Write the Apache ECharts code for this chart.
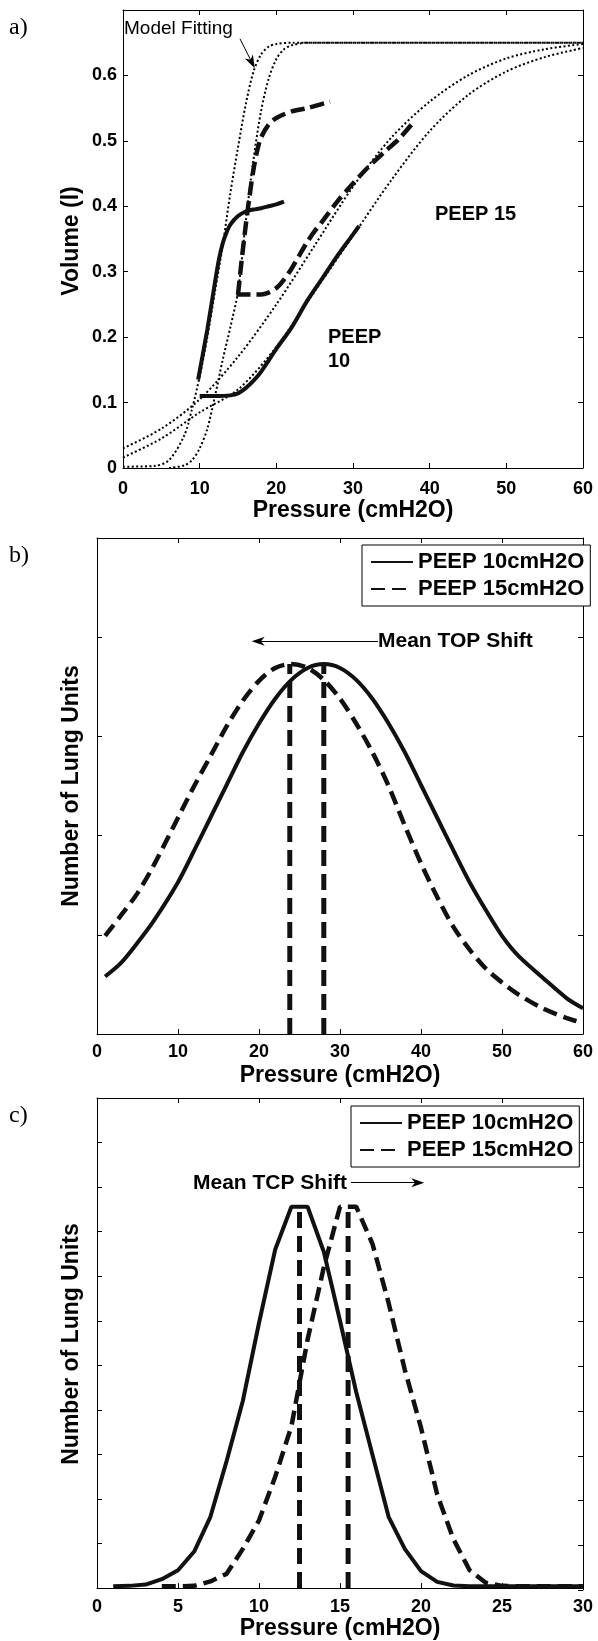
<!DOCTYPE html>
<html>
<head>
<meta charset="utf-8">
<script src="https://cdn.jsdelivr.net/npm/echarts@6/dist/echarts.min.js"></script>
<style>
  html, body { margin: 0; padding: 0; background: #fff; }
  #main { width: 598px; height: 1641px; }
</style>
</head>
<body>
<div id="main"></div>
<script>
// ---- panel a: P-V curves, volume (l) against pressure (cmH2O)
const fitS1X = [0, 4, 6, 8, 9, 10, 11, 12, 13, 14, 15, 16, 17, 18, 19, 20, 22, 30, 40, 50, 60];
const fitS1Y = [0.002, 0.003, 0.012, 0.05, 0.09, 0.14, 0.2, 0.27, 0.34, 0.42, 0.49, 0.555, 0.605, 0.632, 0.644, 0.648, 0.65, 0.65, 0.65, 0.65, 0.65];
const fitS2X = [6, 8, 9, 10, 11, 12, 13, 14, 15, 16, 17, 18, 19, 20, 21, 22, 24, 30, 40, 50, 60];
const fitS2Y = [0, 0.004, 0.012, 0.03, 0.06, 0.11, 0.165, 0.215, 0.27, 0.375, 0.47, 0.545, 0.595, 0.625, 0.64, 0.646, 0.65, 0.65, 0.65, 0.65, 0.65];
const fitGX = [0, 5, 10, 15, 20, 25, 30, 35, 40, 45, 50, 55, 60];
const fitG1Y = [0.03, 0.06, 0.105, 0.17, 0.25, 0.34, 0.43, 0.505, 0.56, 0.6, 0.626, 0.64, 0.648];
const fitG2Y = [0.016, 0.045, 0.085, 0.12, 0.185, 0.27, 0.355, 0.44, 0.515, 0.57, 0.606, 0.628, 0.642];

const p10InX = [10, 12, 14, 15, 16, 17, 18, 20, 22, 24, 26, 28, 30, 30.8];
const p10InY = [0.11, 0.11, 0.111, 0.114, 0.122, 0.133, 0.147, 0.182, 0.215, 0.255, 0.29, 0.325, 0.357, 0.37];
const p10OutX = [9.8, 11, 12, 12.5, 13, 13.5, 14, 15, 16, 17, 18, 19, 20, 21];
const p10OutY = [0.135, 0.212, 0.284, 0.318, 0.343, 0.36, 0.372, 0.385, 0.392, 0.395, 0.397, 0.4, 0.403, 0.407];
const p15InX = [14.8, 16, 17, 18, 19, 20, 21, 22, 23, 24, 25, 26, 28, 30, 32, 34, 36, 38];
const p15InY = [0.265, 0.265, 0.265, 0.265, 0.268, 0.275, 0.288, 0.305, 0.325, 0.345, 0.362, 0.377, 0.408, 0.435, 0.46, 0.482, 0.503, 0.53];
const p15OutX = [15, 15.5, 16, 16.5, 17, 17.5, 18, 19, 20, 22, 24, 27];
const p15OutY = [0.265, 0.32, 0.37, 0.415, 0.455, 0.485, 0.505, 0.525, 0.535, 0.545, 0.55, 0.56];

// ---- panel b: opening pressure distribution
const topX = [1, 3, 5, 7, 10, 12, 14, 16, 18, 20, 22, 24, 26, 28, 30, 32, 34, 36, 38, 40, 42, 44, 46, 48, 50, 52, 55, 58, 60];
const top10 = [0.58, 0.72, 0.92, 1.14, 1.53, 1.85, 2.18, 2.51, 2.84, 3.13, 3.38, 3.57, 3.69, 3.73, 3.69, 3.57, 3.38, 3.13, 2.84, 2.51, 2.18, 1.85, 1.53, 1.25, 0.99, 0.79, 0.57, 0.36, 0.26];
const top15 = [0.99, 1.2, 1.42, 1.7, 2.18, 2.5, 2.8, 3.1, 3.36, 3.56, 3.69, 3.73, 3.69, 3.57, 3.38, 3.13, 2.84, 2.5, 2.1, 1.72, 1.38, 1.08, 0.85, 0.66, 0.52, 0.4, 0.26, 0.16, 0.11];
const topMean = [28, 23.8];
const topPeak = 3.73;

// ---- panel c: closing pressure distribution
const tcpX10 = [1, 2, 3, 4, 5, 6, 7, 8, 9, 10, 11, 12, 13, 14, 15, 16, 17, 18, 19, 20, 21, 22, 23, 30];
const tcp10 = [0.04, 0.05, 0.08, 0.2, 0.4, 0.82, 1.6, 2.85, 4.2, 5.95, 7.6, 8.56, 8.56, 7.55, 6.0, 4.4, 3.0, 1.6, 0.88, 0.38, 0.14, 0.06, 0.04, 0.04];
const tcpX15 = [4, 5, 6, 7, 8, 9, 10, 11, 12, 13, 14, 15, 16, 17, 18, 19, 20, 21, 22, 23, 24, 25, 26, 30];
const tcp15 = [0.04, 0.04, 0.05, 0.15, 0.32, 0.88, 1.52, 2.5, 3.63, 5.58, 7.2, 8.56, 8.56, 7.73, 6.4, 4.9, 3.6, 2.1, 1.1, 0.4, 0.12, 0.05, 0.04, 0.04];
const tcpMean = [12.5, 15.5];
const tcpPeak = 8.6;

const legendNames = ['PEEP 10cmH2O', 'PEEP 15cmH2O'];

const SANS = 'Liberation Sans, Arial, sans-serif';
const INK = '#111';
const zip = (xs, ys) => xs.map((x, i) => [x, ys[i]]);
const arrowHead = 'path://M0,0 L6,14 L0,10 L-6,14 Z';

const boxes = [
  { left: 123, top: 10, width: 460, height: 458 },
  { left: 97, top: 538, width: 486, height: 496 },
  { left: 97, top: 1098, width: 486, height: 492 }
];
// grids 0-2 hold the data and the bottom/left axes, grids 3-5 are the same boxes carrying the top/right ticks
const grids = boxes.concat(boxes.map(b => Object.assign({}, b)));

const tickStyle = { inside: true, length: 5, lineStyle: { color: '#000', width: 1 } };
const lineAx = { show: true, onZero: false, lineStyle: { color: '#000', width: 1 } };
const labelTxt = { color: '#000', fontSize: 18, fontWeight: 'bold', fontFamily: SANS };

function xAxis(g, max, interval, margin, gap) {
  return { gridIndex: g, type: 'value', min: 0, max: max, interval: interval, position: 'bottom',
    axisLine: lineAx, axisTick: tickStyle, splitLine: { show: false },
    axisLabel: Object.assign({ margin: margin }, labelTxt),
    name: 'Pressure (cmH2O)', nameLocation: 'middle', nameGap: gap,
    nameTextStyle: { color: '#000', fontSize: 23, fontWeight: 'bold', fontFamily: SANS } };
}
function topAxis(g, max, interval) {
  return { gridIndex: g, type: 'value', min: 0, max: max, interval: interval, position: 'top',
    axisLine: lineAx, axisTick: tickStyle, splitLine: { show: false }, axisLabel: { show: false } };
}
function yAxis(g, max, interval, showLabels) {
  return { gridIndex: g, type: 'value', min: 0, max: max, interval: interval, position: 'left',
    axisLine: lineAx, axisTick: tickStyle, splitLine: { show: false },
    axisLabel: Object.assign({ show: showLabels, margin: 6, showMaxLabel: false }, labelTxt) };
}
function rightAxis(g, max, interval) {
  return { gridIndex: g, type: 'value', min: 0, max: max, interval: interval, position: 'right',
    axisLine: lineAx, axisTick: tickStyle, splitLine: { show: false }, axisLabel: { show: false } };
}

function curve(name, g, data, style, extra) {
  return Object.assign({
    name: name, type: 'line', xAxisIndex: g, yAxisIndex: g, data: data,
    symbol: 'none', smooth: 0.3, animation: false, silent: true,
    lineStyle: Object.assign({ color: INK }, style), itemStyle: { color: INK }
  }, extra || {});
}
const dotted = { width: 2, type: [2, 2.4], color: '#000' };
const solidA = { width: 4, type: 'solid' };
const dashedA = { width: 4.5, type: [14, 6] };
const solidB = { width: 4, type: 'solid' };
const dashedB = { width: 4.5, type: [14, 7] };
const vDash = { width: 5, type: [16, 8] };

function arrow(from, to) {
  return { silent: true, animation: false, symbol: ['none', arrowHead], symbolSize: [9, 13],
    label: { show: false }, emphasis: { disabled: true },
    lineStyle: { color: '#000', width: 1, type: 'solid' },
    data: [[{ coord: from }, { coord: to }]] };
}

const series = [
  curve('fitS1', 0, zip(fitS1X, fitS1Y), dotted, { markLine: arrow([15.26, 0.656], [16.8, 0.62]) }),
  curve('fitS2', 0, zip(fitS2X, fitS2Y), dotted),
  curve('fitG1', 0, zip(fitGX, fitG1Y), dotted),
  curve('fitG2', 0, zip(fitGX, fitG2Y), dotted),
  curve('p10in', 0, zip(p10InX, p10InY), solidA),
  curve('p10out', 0, zip(p10OutX, p10OutY), solidA),
  curve('p15in', 0, zip(p15InX, p15InY), dashedA),
  curve('p15out', 0, zip(p15OutX, p15OutY), dashedA),

  curve(legendNames[0], 1, zip(topX, top10), solidB),
  curve(legendNames[1], 1, zip(topX, top15), dashedB),
  curve('topMean10', 1, [[topMean[0], 0], [topMean[0], topPeak]], vDash, { smooth: false }),
  curve('topMean15', 1, [[topMean[1], 0], [topMean[1], topPeak]], vDash,
    { smooth: false, markLine: arrow([34.7, 3.96], [19.9, 3.96]) }),

  curve(legendNames[0], 2, zip(tcpX10, tcp10), solidB, { smooth: false }),
  curve(legendNames[1], 2, zip(tcpX15, tcp15), dashedB, { smooth: false }),
  curve('tcpMean10', 2, [[tcpMean[0], 0], [tcpMean[0], tcpPeak]], vDash, { smooth: false }),
  curve('tcpMean15', 2, [[tcpMean[1], 0], [tcpMean[1], tcpPeak]], vDash,
    { smooth: false, markLine: arrow([15.68, 9.1], [19.8, 9.1]) })
];

function legendAt(left, top) {
  return {
    data: legendNames, orient: 'vertical', left: left, top: top,
    padding: [6, 6, 6, 8], itemGap: 5, itemWidth: 42, itemHeight: 21,
    borderColor: '#000', borderWidth: 1, backgroundColor: '#fff',
    selectedMode: false,
    itemStyle: { opacity: 0, color: 'rgba(0,0,0,0)', borderColor: 'rgba(0,0,0,0)', borderWidth: 0 },
    textStyle: { color: '#000', fontSize: 22, fontWeight: 'bold', fontFamily: SANS }
  };
}

function txt(x, y, s, opts) {
  return { type: 'text', x: x, y: y, silent: true,
    style: Object.assign({ text: s, fill: '#000', font: 'bold 21px ' + SANS, textVerticalAlign: 'middle' }, opts || {}) };
}
// rotated y-axis titles
function yTitle(cy, s) {
  return { type: 'text', x: 72, y: cy, rotation: Math.PI / 2, silent: true,
    style: { text: s, fill: '#000', font: 'bold 23px ' + SANS, textAlign: 'center', textVerticalAlign: 'middle' } };
}

const option = {
  backgroundColor: '#fff',
  animation: false,
  grid: grids,
  xAxis: [
    xAxis(0, 60, 10, 12, 28), xAxis(1, 60, 10, 9, 30), xAxis(2, 30, 5, 10, 28),
    topAxis(3, 60, 10), topAxis(4, 60, 10), topAxis(5, 30, 5)
  ],
  yAxis: [
    yAxis(0, 0.7, 0.1, true), yAxis(1, 5, 1, false), yAxis(2, 11, 1, false),
    rightAxis(3, 0.7, 0.1), rightAxis(4, 5, 1), rightAxis(5, 11, 1)
  ],
  legend: [legendAt(362, 545), legendAt(351, 1106)],
  series: series,
  graphic: [
    yTitle(241, 'Volume (l)'),
    yTitle(786, 'Number of Lung Units'),
    yTitle(1344, 'Number of Lung Units'),
    txt(9, 28, 'a)', { font: '24px Liberation Serif, Times New Roman, serif' }),
    txt(9, 556, 'b)', { font: '24px Liberation Serif, Times New Roman, serif' }),
    txt(9, 1116, 'c)', { font: '24px Liberation Serif, Times New Roman, serif' }),
    txt(124, 29, 'Model Fitting', { font: '19px ' + SANS }),
    txt(435, 214, 'PEEP 15', { font: 'bold 20px ' + SANS }),
    txt(328, 337, 'PEEP', { font: 'bold 20px ' + SANS }),
    txt(328, 361, '10', { font: 'bold 20px ' + SANS }),
    txt(378, 641, 'Mean TOP Shift'),
    txt(193, 1183, 'Mean TCP Shift')
  ]
};

const chart = echarts.init(document.getElementById('main'));
chart.setOption(option);
</script>
</body>
</html>
